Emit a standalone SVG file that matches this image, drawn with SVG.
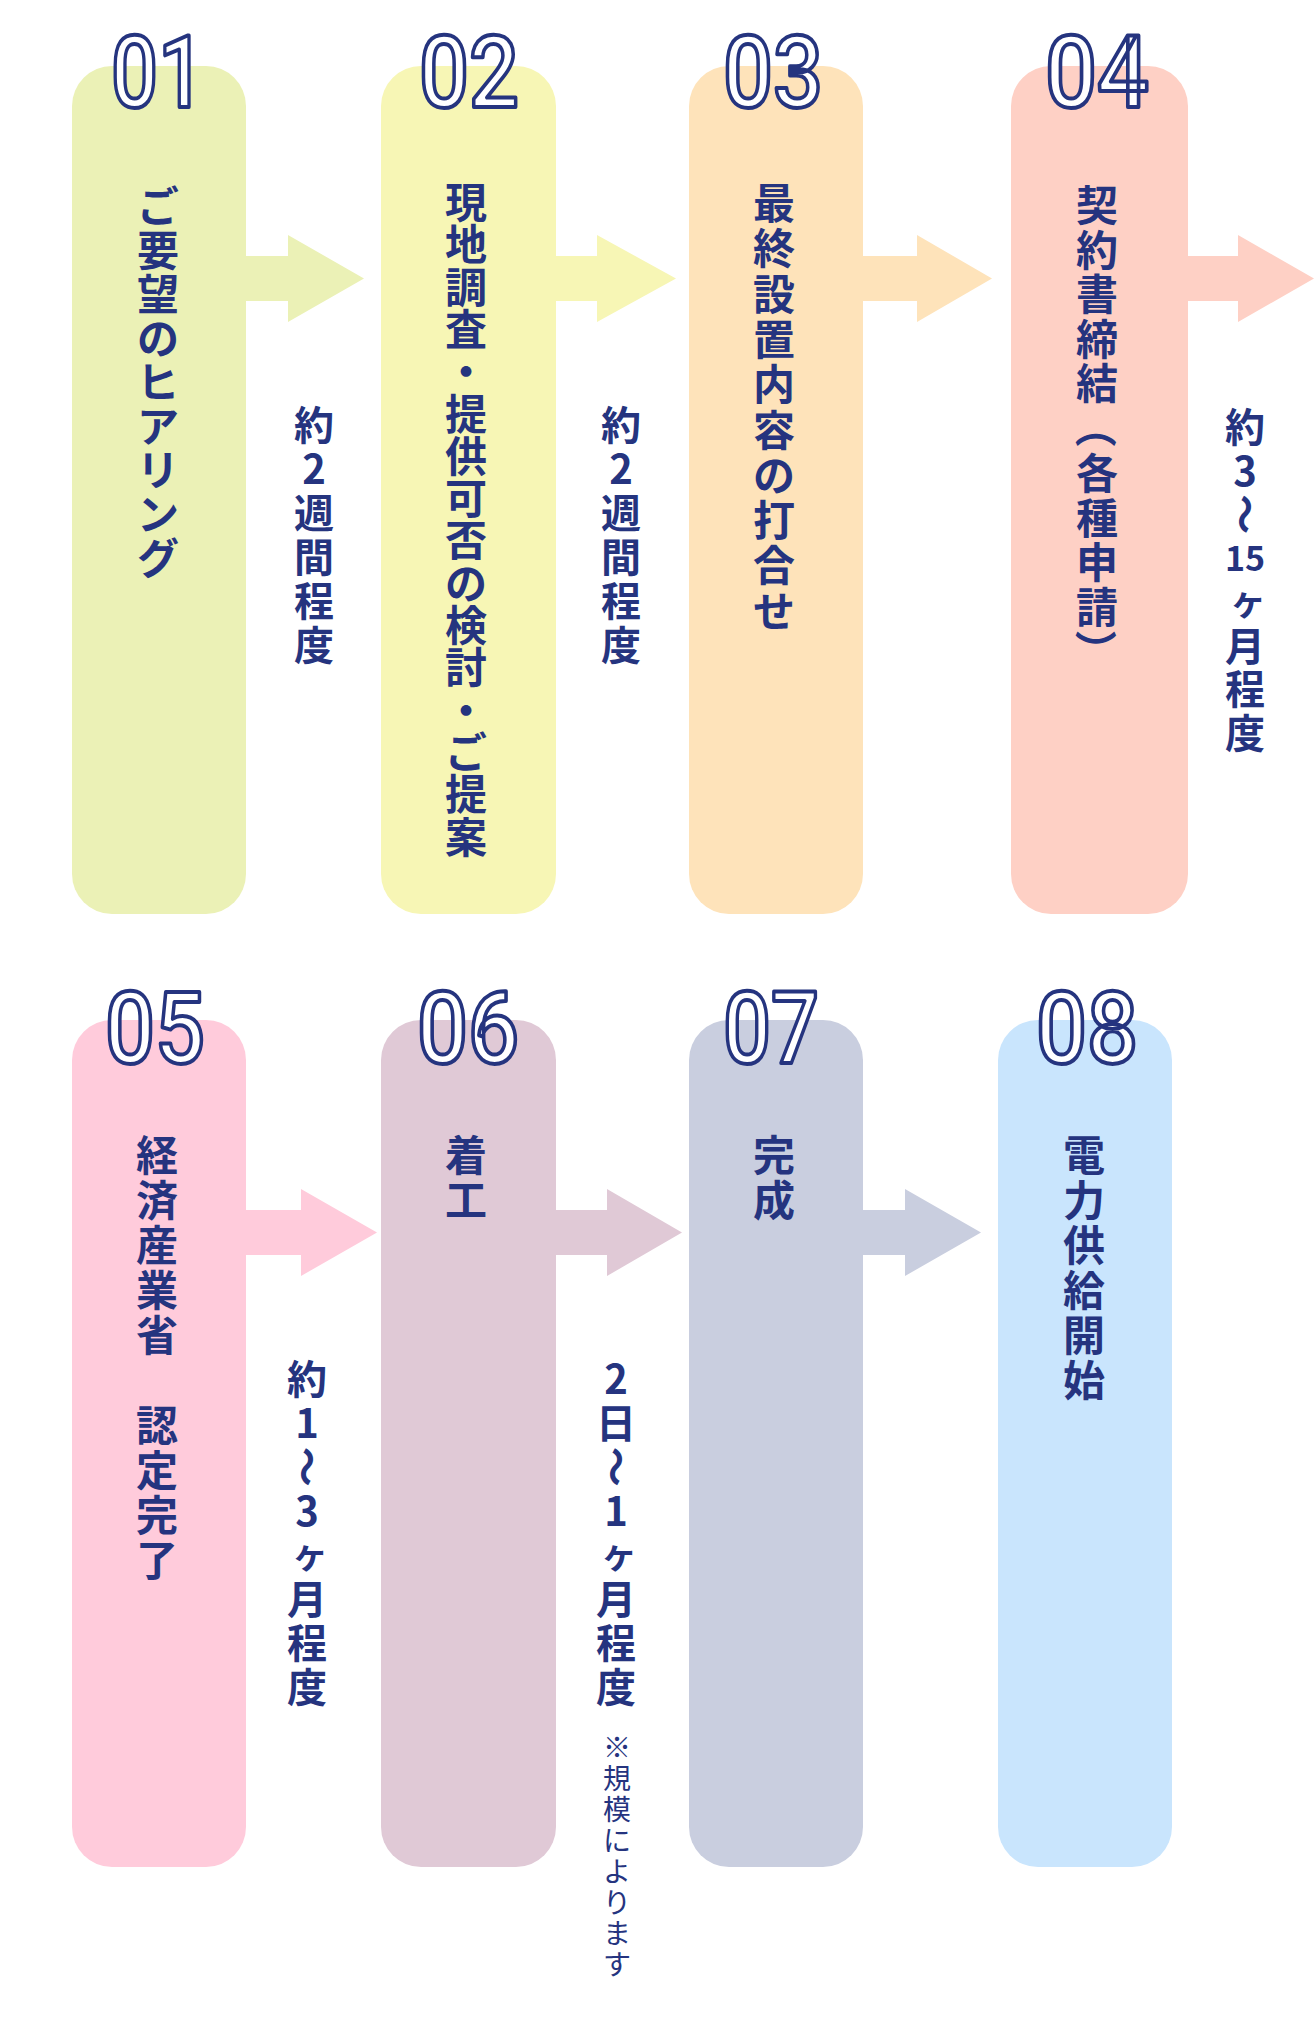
<svg xmlns="http://www.w3.org/2000/svg" width="1314" height="2026" viewBox="0 0 1314 2026">
<style>
.num{font-family:Roboto,"Liberation Sans",sans-serif;font-weight:500;font-size:100px;fill:#fff;stroke:#25347F;stroke-width:4;stroke-linejoin:round;text-anchor:middle}
.jp{font-family:"Noto Sans CJK JP",sans-serif;font-weight:700;fill:#25347F;text-anchor:middle;dominant-baseline:central}
.t{font-size:42px}
.l{font-size:40px}
.n{font-size:28px;font-weight:400}
.k{font-size:36px}
.c1{fill:#EBF1B6}.c2{fill:#F7F6B5}.c3{fill:#FEE3BA}.c4{fill:#FED0C5}
.c5{fill:#FFCBDB}.c6{fill:#E0C9D6}.c7{fill:#C9CEDF}.c8{fill:#C9E5FD}
</style>
<rect width="1314" height="2026" fill="#fff"/>
<g id="connectors">
<polygon class="c1" points="240,256 288,256 288,235 364,278.5 288,322 288,301 240,301"/>
<polygon class="c2" points="550,256 597,256 597,235 676,278.5 597,322 597,301 550,301"/>
<polygon class="c3" points="857,256 917,256 917,235 992,278.5 917,322 917,301 857,301"/>
<polygon class="c4" points="1182,256 1238,256 1238,235 1314,278.5 1238,322 1238,301 1182,301"/>
<polygon class="c5" points="240,1210 301,1210 301,1189 377,1232.5 301,1276 301,1255 240,1255"/>
<polygon class="c6" points="550,1210 607,1210 607,1189 682,1232.5 607,1276 607,1255 550,1255"/>
<polygon class="c7" points="857,1210 905,1210 905,1189 981,1232.5 905,1276 905,1255 857,1255"/>
</g>
<g id="node1">
<rect class="c1" x="72" y="66" width="174" height="848" rx="40"/>
<text class="num" x="158" y="107" textLength="94" lengthAdjust="spacingAndGlyphs">01</text>
<text class="jp t"><tspan x="158" y="203">ご</tspan><tspan x="158" y="247">要</tspan><tspan x="158" y="291">望</tspan><tspan x="158" y="335">の</tspan><tspan x="158" y="379">ヒ</tspan><tspan x="158" y="423">ア</tspan><tspan x="158" y="467">リ</tspan><tspan x="158" y="511">ン</tspan><tspan x="158" y="555">グ</tspan></text>
</g>
<g id="node2">
<rect class="c2" x="381" y="66" width="175" height="848" rx="40"/>
<text class="num" x="469" y="107" textLength="100" lengthAdjust="spacingAndGlyphs">02</text>
<text class="jp t"><tspan x="466" y="199">現</tspan><tspan x="466" y="241.3">地</tspan><tspan x="466" y="283.6">調</tspan><tspan x="466" y="325.9">査</tspan><tspan x="466" y="368.2">・</tspan><tspan x="466" y="410.5">提</tspan><tspan x="466" y="452.8">供</tspan><tspan x="466" y="495.1">可</tspan><tspan x="466" y="537.4">否</tspan><tspan x="466" y="579.7">の</tspan><tspan x="466" y="622">検</tspan><tspan x="466" y="664.3">討</tspan><tspan x="466" y="706.6">・</tspan><tspan x="466" y="748.9">ご</tspan><tspan x="466" y="791.2">提</tspan><tspan x="466" y="833.5">案</tspan></text>
</g>
<g id="node3">
<rect class="c3" x="689" y="66" width="174" height="848" rx="40"/>
<text class="num" x="773" y="107" textLength="100" lengthAdjust="spacingAndGlyphs">03</text>
<text class="jp t"><tspan x="774" y="200">最</tspan><tspan x="774" y="245.3">終</tspan><tspan x="774" y="290.6">設</tspan><tspan x="774" y="335.9">置</tspan><tspan x="774" y="381.2">内</tspan><tspan x="774" y="426.5">容</tspan><tspan x="774" y="471.8">の</tspan><tspan x="774" y="517.1">打</tspan><tspan x="774" y="562.4">合</tspan><tspan x="774" y="607.7">せ</tspan></text>
</g>
<g id="node4">
<rect class="c4" x="1011" y="66" width="177" height="848" rx="40"/>
<text class="num" x="1097" y="107" textLength="104" lengthAdjust="spacingAndGlyphs">04</text>
<text class="jp t"><tspan x="1097" y="202">契</tspan><tspan x="1097" y="246.5">約</tspan><tspan x="1097" y="291">書</tspan><tspan x="1097" y="335.5">締</tspan><tspan x="1097" y="380">結</tspan><tspan x="1102" y="387.5" rotate="90">（</tspan><tspan x="1097" y="470">各</tspan><tspan x="1097" y="514.5">種</tspan><tspan x="1097" y="559">申</tspan><tspan x="1097" y="603.5">請</tspan><tspan x="1102" y="611" rotate="90">）</tspan></text>
</g>
<g id="node5">
<rect class="c5" x="72" y="1020" width="174" height="847" rx="40"/>
<text class="num" x="155" y="1063" textLength="100" lengthAdjust="spacingAndGlyphs">05</text>
<text class="jp t"><tspan x="157" y="1152">経</tspan><tspan x="157" y="1197">済</tspan><tspan x="157" y="1242">産</tspan><tspan x="157" y="1287">業</tspan><tspan x="157" y="1332">省</tspan><tspan x="157" y="1377">　</tspan><tspan x="157" y="1422">認</tspan><tspan x="157" y="1467">定</tspan><tspan x="157" y="1512">完</tspan><tspan x="157" y="1557">了</tspan></text>
</g>
<g id="node6">
<rect class="c6" x="381" y="1020" width="175" height="847" rx="40"/>
<text class="num" x="468" y="1063" textLength="102" lengthAdjust="spacingAndGlyphs">06</text>
<text class="jp t"><tspan x="466" y="1152">着</tspan><tspan x="466" y="1197">工</tspan></text>
</g>
<g id="node7">
<rect class="c7" x="689" y="1020" width="174" height="847" rx="40"/>
<text class="num" x="771" y="1063" textLength="96" lengthAdjust="spacingAndGlyphs">07</text>
<text class="jp t"><tspan x="774" y="1152">完</tspan><tspan x="774" y="1197">成</tspan></text>
</g>
<g id="node8">
<rect class="c8" x="998" y="1020" width="174" height="847" rx="40"/>
<text class="num" x="1087" y="1063" textLength="102" lengthAdjust="spacingAndGlyphs">08</text>
<text class="jp t"><tspan x="1084" y="1152">電</tspan><tspan x="1084" y="1197">力</tspan><tspan x="1084" y="1242">供</tspan><tspan x="1084" y="1287">給</tspan><tspan x="1084" y="1332">開</tspan><tspan x="1084" y="1377">始</tspan></text>
</g>
<g id="labels">
<text class="jp l"><tspan x="314" y="423">約</tspan><tspan x="314" y="467">2</tspan><tspan x="314" y="511">週</tspan><tspan x="314" y="555">間</tspan><tspan x="314" y="599">程</tspan><tspan x="314" y="643">度</tspan></text>
<text class="jp l"><tspan x="621" y="423">約</tspan><tspan x="621" y="467">2</tspan><tspan x="621" y="511">週</tspan><tspan x="621" y="555">間</tspan><tspan x="621" y="599">程</tspan><tspan x="621" y="643">度</tspan></text>
<text class="jp l"><tspan x="1245" y="425">約</tspan><tspan x="1245" y="468.7">3</tspan><tspan x="1249.8" y="477.2" rotate="90">〜</tspan><tspan x="1245" y="556.1" style="font-size:34px">15</tspan><tspan class="k" x="1248" y="599">ヶ</tspan><tspan x="1245" y="643.5">月</tspan><tspan x="1245" y="687.2">程</tspan><tspan x="1245" y="730.9">度</tspan></text>
<text class="jp l"><tspan x="307" y="1377">約</tspan><tspan x="307" y="1421">1</tspan><tspan x="311.8" y="1429.8" rotate="90">〜</tspan><tspan x="307" y="1509">3</tspan><tspan class="k" x="310" y="1552">ヶ</tspan><tspan x="307" y="1597">月</tspan><tspan x="307" y="1641">程</tspan><tspan x="307" y="1685">度</tspan></text>
<text class="jp l"><tspan x="616" y="1377">2</tspan><tspan x="616" y="1421">日</tspan><tspan x="620.8" y="1429.8" rotate="90">〜</tspan><tspan x="616" y="1509">1</tspan><tspan class="k" x="619" y="1552">ヶ</tspan><tspan x="616" y="1597">月</tspan><tspan x="616" y="1641">程</tspan><tspan x="616" y="1685">度</tspan></text>
<text class="jp n"><tspan x="617" y="1746">※</tspan><tspan x="617" y="1777">規</tspan><tspan x="617" y="1808">模</tspan><tspan x="617" y="1839">に</tspan><tspan x="617" y="1870">よ</tspan><tspan x="617" y="1901">り</tspan><tspan x="617" y="1932">ま</tspan><tspan x="617" y="1963">す</tspan></text>
</g>
</svg>
